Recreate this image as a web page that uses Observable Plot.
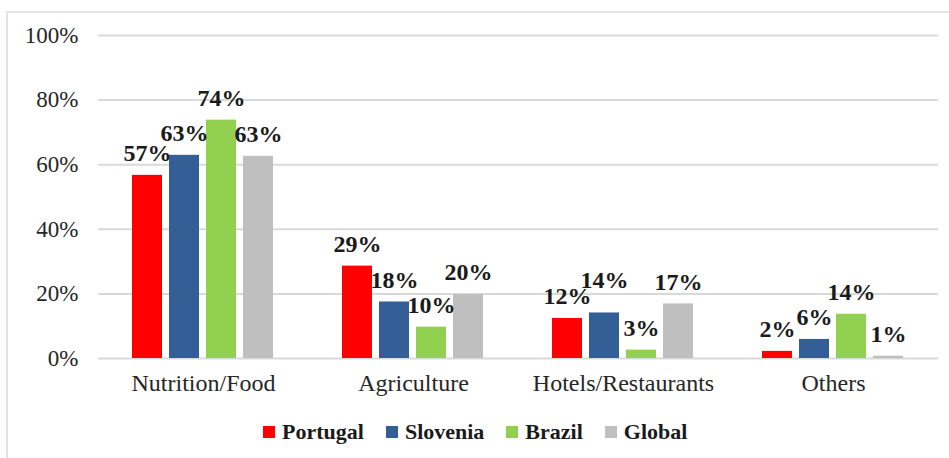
<!DOCTYPE html>
<html>
<head>
<meta charset="utf-8">
<script src="https://cdn.jsdelivr.net/npm/d3@7"></script>
<script src="https://cdn.jsdelivr.net/npm/@observablehq/plot@0.6"></script>
</head>
<body style="margin:0;padding:0;background:#fff;">
<div id="wrap" style="position:relative;width:949px;height:458px;overflow:hidden;font-family:'Liberation Serif';">
  <div id="frame" style="position:absolute;left:6px;top:11px;width:960px;height:460px;border-top:2px solid #e3e3e3;border-left:2px solid #e3e3e3;box-sizing:border-box;"></div>
  <div id="chart" style="position:absolute;left:0;top:0;"></div>
  <div id="legend" style="position:absolute;left:263px;top:419px;display:flex;align-items:center;font-family:'Liberation Serif';font-weight:bold;font-size:22px;color:#1a1a1a;"></div>
</div>
<script>
const categories = ["Nutrition/Food", "Agriculture", "Hotels/Restaurants", "Others"];
const countries = ["Portugal", "Slovenia", "Brazil", "Global"];
const colors = ["#ff0000", "#335f96", "#92d050", "#bfbfbf"];
const portugal = [56.7, 28.6, 12.4, 2.2];
const slovenia = [62.9, 17.5, 14.1, 5.9];
const brazil = [73.8, 9.7, 2.6, 13.7];
const global = [62.6, 19.8, 16.9, 0.7];
const labelsPortugal = ["57%", "29%", "12%", "2%"];
const labelsSlovenia = ["63%", "18%", "14%", "6%"];
const labelsBrazil = ["74%", "10%", "3%", "14%"];
const labelsGlobal = ["63%", "20%", "17%", "1%"];
const yTicks = [0, 20, 40, 60, 80, 100];

const series = [portugal, slovenia, brazil, global];
const labels = [labelsPortugal, labelsSlovenia, labelsBrazil, labelsGlobal];
const data = [];
categories.forEach((c, i) => {
  countries.forEach((k, j) => {
    data.push({category: c, country: k, value: series[j][i], label: labels[j][i]});
  });
});

// labels that would collide with their left neighbour (both wide, close in height) get lifted
const lifted = new Set();
categories.forEach((c, i) => {
  for (let j = 1; j < countries.length; j++) {
    const a = labels[j - 1][i], b = labels[j][i];
    const va = series[j - 1][i], vb = series[j][i];
    if (a.length >= 3 && b.length >= 3 && vb > va && vb - va < 5) lifted.add(c + "|" + countries[j]);
  }
});
const isLifted = d => lifted.has(d.category + "|" + d.country);

const font = "Liberation Serif";

const chart = Plot.plot({
  width: 949,
  height: 410,
  marginTop: 35,
  marginBottom: 52,
  marginLeft: 97,
  marginRight: 10,
  style: { fontFamily: font, background: "transparent", overflow: "visible" },
  fx: { domain: categories, padding: 0, label: null },
  x: { domain: countries, paddingInner: 0.184, paddingOuter: 0.86, axis: null },
  y: { domain: [0, 100], label: null },
  color: { domain: countries, range: colors },
  marks: [
    Plot.gridY(yTicks, { stroke: "#d9d9d9", strokeOpacity: 1, strokeWidth: 2, facetAnchor: null }),
    Plot.axisY(yTicks, { tickSize: 0, tickPadding: 20, tickFormat: d => d + "%", fontSize: 23, fontFamily: font, fill: "#262626", label: null, facetAnchor: "left" }),
    Plot.axisFx({ tickSize: 0, tickPadding: 15, fontSize: 24, fontFamily: font, fill: "#262626", label: null, anchor: "bottom" }),
    Plot.barY(data, { fx: "category", x: "country", y: "value", fill: "country" }),
    Plot.text(data, { filter: d => !isLifted(d), fx: "category", x: "country", y: "value", text: "label", dy: -22, fontSize: 24, fontFamily: font, fontWeight: "bold", fill: "#1a1a1a" }),
    Plot.text(data, { filter: isLifted, fx: "category", x: "country", y: "value", text: "label", dy: -33, fontSize: 24, fontFamily: font, fontWeight: "bold", fill: "#1a1a1a" })
  ]
});
chart.setAttribute("font-family", font);
chart.querySelectorAll("text, g").forEach(el => el.style.setProperty("font-family", font, "important"));
document.getElementById("chart").appendChild(chart);

const legend = document.getElementById("legend");
countries.forEach((k, j) => {
  const item = document.createElement("div");
  item.style.cssText = "display:flex;align-items:center;margin-right:22px;";
  const sw = document.createElement("div");
  sw.style.cssText = "width:12px;height:12px;margin-right:7px;background:" + colors[j] + ";";
  const t = document.createElement("span");
  t.style.setProperty("font-family", font, "important");
  t.textContent = k;
  item.appendChild(sw);
  item.appendChild(t);
  legend.appendChild(item);
});
</script>
</body>
</html>
